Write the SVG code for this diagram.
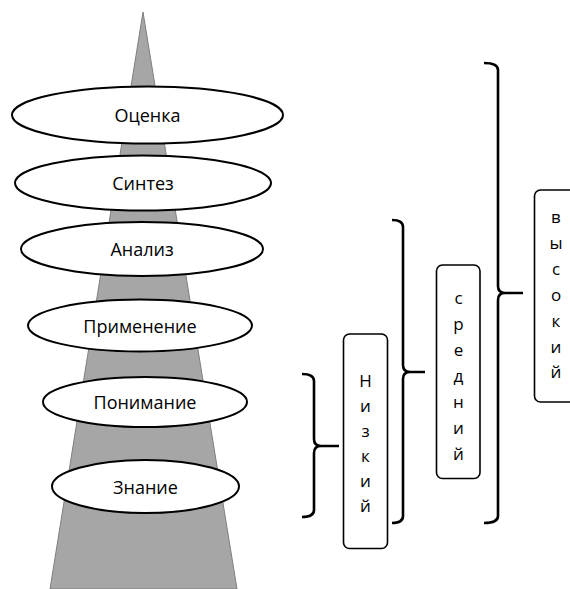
<svg xmlns="http://www.w3.org/2000/svg" width="570" height="589" viewBox="0 0 570 589">
  <style>
    .lvl ellipse { fill: #ffffff; stroke: #000000; stroke-width: 2; }
    .lvl text { font-family: "Open Sans", "Noto Sans", sans-serif; font-size: 18px; fill: #000000; text-anchor: middle; dominant-baseline: central; }
    .grp rect { fill: #ffffff; stroke: #000000; stroke-width: 1.6; }
    .grp text { font-family: "Open Sans", "Noto Sans", sans-serif; font-size: 17px; fill: #000000; text-anchor: middle; dominant-baseline: central; }
    .brace { fill: none; stroke: #000000; stroke-width: 2.6; stroke-linejoin: round; }
  </style>

  <!-- tapering column behind the levels -->
  <polygon points="143,12 237,589 50,589" fill="#a6a6a6" stroke="#7f7f7f" stroke-width="1"/>

  <g id="level-evaluation" class="lvl">
    <ellipse cx="147.5" cy="115" rx="135.5" ry="28.5"/>
    <text x="147.5" y="115">Оценка</text>
  </g>
  <g id="level-synthesis" class="lvl">
    <ellipse cx="143" cy="183" rx="128" ry="27.5"/>
    <text x="143" y="183">Синтез</text>
  </g>
  <g id="level-analysis" class="lvl">
    <ellipse cx="142" cy="249" rx="121" ry="27"/>
    <text x="142" y="249">Анализ</text>
  </g>
  <g id="level-application" class="lvl">
    <ellipse cx="140" cy="325.5" rx="112" ry="26"/>
    <text x="140" y="325.5">Применение</text>
  </g>
  <g id="level-comprehension" class="lvl">
    <ellipse cx="145" cy="402" rx="102" ry="25"/>
    <text x="145" y="402">Понимание</text>
  </g>
  <g id="level-knowledge" class="lvl">
    <ellipse cx="145.5" cy="486.5" rx="93.5" ry="26.5"/>
    <text x="145.5" y="486.5">Знание</text>
  </g>

  <g id="connectors">
    <!-- low -->
    <path class="brace" d="M302,374 Q314,374 314,381 L314,439 Q314,446 321,446 Q314,446 314,453 L314,510 Q314,517 302,517 M321,446 H339"/>
    <!-- middle -->
    <path class="brace" d="M392,220 Q403,220 403,227 L403,365 Q403,372 410,372 Q403,372 403,379 L403,516 Q403,523 392,523 M410,372 H425"/>
    <!-- high -->
    <path class="brace" d="M484,63 Q498,63 498,70 L498,286 Q498,293 505,293 Q498,293 498,300 L498,516 Q498,523 484,523 M505,293 H523"/>
  </g>

  <g id="group-low" class="grp">
    <rect x="343.5" y="334" width="44" height="214.5" rx="6"/>
    <text x="365.5" y="380">Н</text>
    <text x="365.5" y="405">и</text>
    <text x="365.5" y="430">з</text>
    <text x="365.5" y="455">к</text>
    <text x="365.5" y="480">и</text>
    <text x="365.5" y="505">й</text>
  </g>

  <g id="group-middle" class="grp">
    <rect x="436.5" y="265" width="43.5" height="213.5" rx="6"/>
    <text x="458.5" y="297">с</text>
    <text x="458.5" y="323">р</text>
    <text x="458.5" y="349">е</text>
    <text x="458.5" y="375">д</text>
    <text x="458.5" y="401">н</text>
    <text x="458.5" y="427">и</text>
    <text x="458.5" y="453">й</text>
  </g>

  <g id="group-high" class="grp">
    <rect x="534.5" y="190" width="50" height="212" rx="6"/>
    <text x="556" y="216">в</text>
    <text x="556" y="242">ы</text>
    <text x="556" y="268">с</text>
    <text x="556" y="294">о</text>
    <text x="556" y="320">к</text>
    <text x="556" y="346">и</text>
    <text x="556" y="371">й</text>
  </g>
</svg>
